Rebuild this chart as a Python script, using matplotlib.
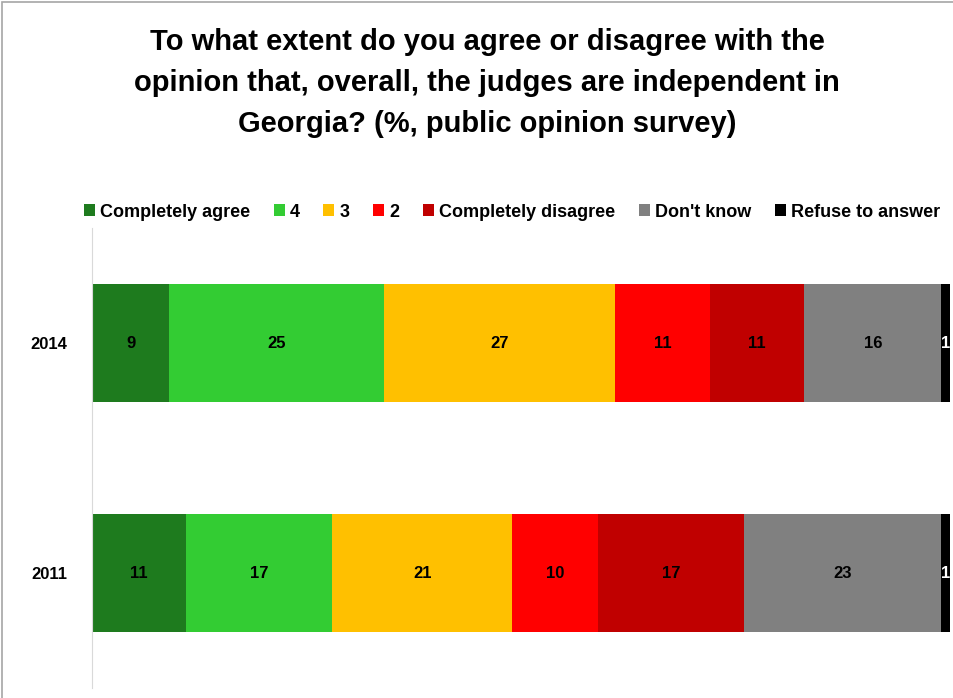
import matplotlib
matplotlib.use("Agg")
import matplotlib.pyplot as plt
from matplotlib.patches import Rectangle

years = ["2011", "2014"]
categories = ["Completely agree", "4", "3", "2", "Completely disagree", "Don't know", "Refuse to answer"]
values = {
    "Completely agree": [11, 9],
    "4": [17, 25],
    "3": [21, 27],
    "2": [10, 11],
    "Completely disagree": [17, 11],
    "Don't know": [23, 16],
    "Refuse to answer": [1, 1],
}
colors = ["#1E7B1E", "#33CC33", "#FFC000", "#FF0000", "#C00000", "#808080", "#000000"]
text_colors = ["#000000", "#000000", "#000000", "#000000", "#000000", "#000000", "#FFFFFF"]

plt.rcParams['font.family'] = ['Liberation Sans', 'DejaVu Sans']

fig = plt.figure(figsize=(9.54, 6.98), dpi=100)
ax = fig.add_axes([92/954, 1 - 688/698, (950-92)/954, (688-228)/698])

ypos = list(range(len(years)))
left = [0]*len(years)
for cat, col, tc in zip(categories, colors, text_colors):
    vals = values[cat]
    ax.barh(ypos, vals, left=left, height=0.51, color=col, label=cat)
    for i, (v, l) in enumerate(zip(vals, left)):
        ax.text(l + v/2, ypos[i], str(v), ha='center', va='center',
                fontsize=12, fontweight='bold', color=tc)
    left = [a + b for a, b in zip(left, vals)]

ax.set_xlim(0, 100)
ax.set_ylim(-0.5, 1.5)
ax.set_yticks(ypos)
ax.set_yticklabels(years, fontsize=12, fontweight='bold')
ax.tick_params(axis='y', length=0, pad=18)
ax.set_xticks([])
for s in ['top', 'right', 'bottom']:
    ax.spines[s].set_visible(False)
ax.spines['left'].set_color('#D9D9D9')

fig.text(487/954, 1 - 83/698, "To what extent do you agree or disagree with the\nopinion that, overall, the judges are independent in\nGeorgia? (%, public opinion survey)",
         ha='center', va='center', fontsize=21, fontweight='bold', linespacing=1.6)

fig.legend(loc='center', bbox_to_anchor=(512/954, 1 - 212/698), ncol=7, frameon=False,
           handlelength=0.6, handleheight=0.6, handletextpad=0.3,
           columnspacing=1.3, prop={'weight': 'bold', 'size': 13})

fig.patches.append(Rectangle((2/954, -0.01), 1.0, 1 - 2/698 + 0.01, transform=fig.transFigure,
                             fill=False, edgecolor='#A6A6A6', linewidth=1.2))

fig.savefig("out.png", dpi=100)
